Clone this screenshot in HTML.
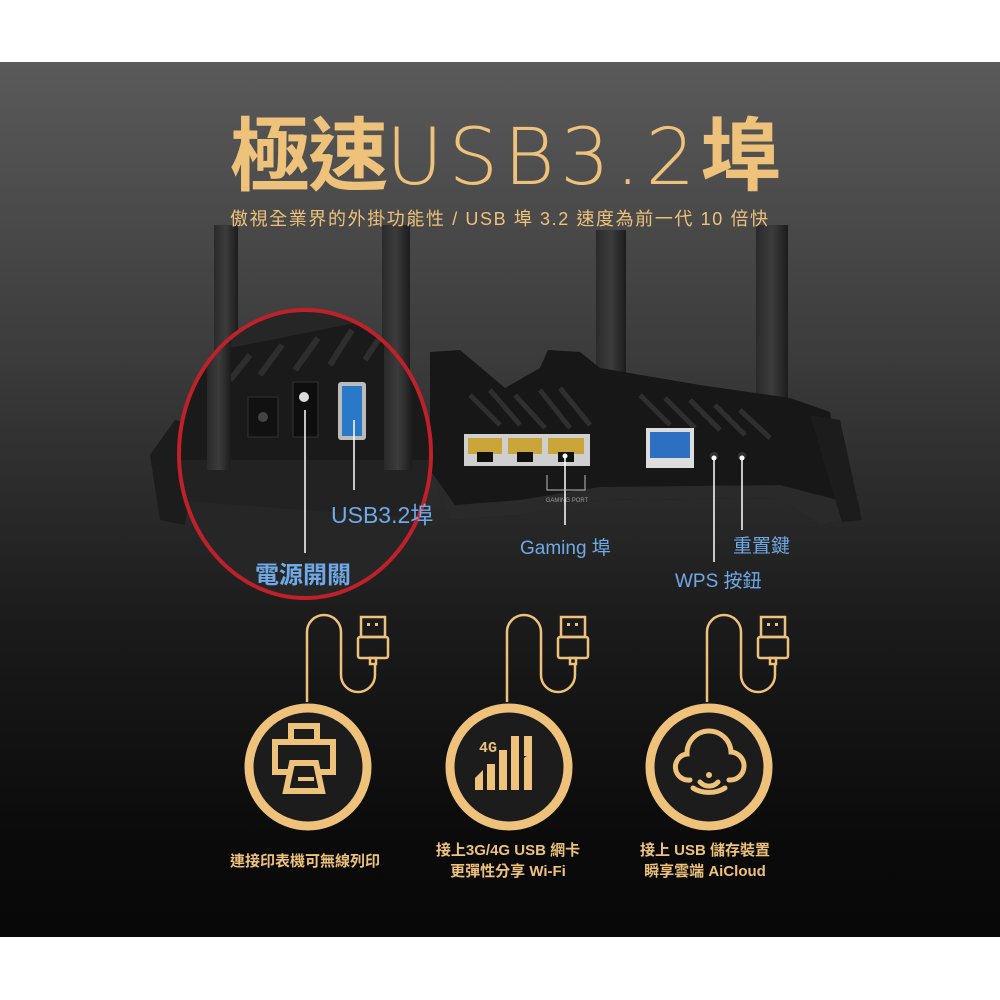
<!DOCTYPE html>
<html><head><meta charset="utf-8">
<style>
html,body{margin:0;padding:0;background:#fff;}
#c{position:relative;width:1000px;height:1000px;overflow:hidden;background:#fff;font-family:"Liberation Sans","Noto Sans CJK TC",sans-serif;}
#bg{position:absolute;left:0;top:62px;width:1000px;height:875px;background:linear-gradient(#5a5a5a 0%,#3a3a3a 35%,#1a1a1a 65%,#0a0a0a 90%,#080808 100%);}
svg{position:absolute;left:0;top:0;}
.t{position:absolute;white-space:nowrap;}
</style></head><body><div id="c">
<div id="bg"></div>
<svg width="1000" height="1000" viewBox="0 0 1000 1000">
 <defs>
  <clipPath id="cc"><ellipse cx="305" cy="454" rx="126" ry="144"/></clipPath>
  <linearGradient id="ant" x1="0" x2="1"><stop offset="0" stop-color="#2a2a2a"/><stop offset=".5" stop-color="#3c3c3c"/><stop offset="1" stop-color="#1c1c1c"/></linearGradient>
 </defs>
 <rect x="214" y="225" width="24" height="260" fill="url(#ant)"/>
 <rect x="382" y="225" width="28" height="260" fill="url(#ant)"/>
 <rect x="596" y="230" width="30" height="250" fill="url(#ant)"/>
 <rect x="756" y="225" width="32" height="255" fill="url(#ant)"/>
 <polygon points="430,352 460,350 505,388 540,368 548,350 580,352 600,368 700,385 790,398 830,412 842,520 820,525 780,498 600,500 520,515 450,520 430,470" fill="#171717"/>
 <polygon points="430,470 450,520 520,515 600,500 780,498 820,525 842,520 838,500 780,485 600,487 520,500 455,505" fill="#2a2a2a"/>
 <g stroke="#2f2f2f" stroke-width="5">
  <line x1="470" y1="395" x2="500" y2="425"/><line x1="490" y1="390" x2="520" y2="425"/><line x1="515" y1="395" x2="545" y2="428"/>
  <line x1="540" y1="390" x2="570" y2="428"/><line x1="560" y1="388" x2="590" y2="425"/><line x1="640" y1="395" x2="670" y2="425"/>
  <line x1="665" y1="398" x2="695" y2="428"/><line x1="690" y1="400" x2="720" y2="430"/><line x1="715" y1="405" x2="745" y2="435"/><line x1="740" y1="410" x2="770" y2="438"/>
 </g>
 <rect x="464" y="434" width="126" height="32" fill="#cfcfcf"/>
 <rect x="468" y="438" width="34" height="16" fill="#c9a53a"/><rect x="508" y="438" width="34" height="16" fill="#c9a53a"/><rect x="548" y="438" width="36" height="16" fill="#c9a53a"/>
 <rect x="477" y="452" width="16" height="10" fill="#111"/><rect x="517" y="452" width="16" height="10" fill="#111"/><rect x="558" y="452" width="16" height="10" fill="#111"/>
 <rect x="646" y="428" width="48" height="40" fill="#ddd"/><rect x="650" y="432" width="40" height="26" fill="#2d6fc0"/>
 <circle cx="714" cy="456" r="5" fill="#333" stroke="#111"/><circle cx="742" cy="456" r="5" fill="#333" stroke="#111"/>
 <polygon points="150,455 175,420 200,425 185,525 160,520" fill="#1c1c1c"/>
 <polygon points="810,415 840,420 862,520 842,522" fill="#1c1c1c"/>
 <text x="567" y="502" font-size="6" fill="#999" text-anchor="middle" font-family="Liberation Sans">GAMING PORT</text>
 <g clip-path="url(#cc)">
  <rect x="170" y="300" width="270" height="310" fill="#262626"/>
  <polygon points="170,360 420,310 440,310 440,480 170,480" fill="#1a1a1a"/>
  <g stroke="#2e2e2e" stroke-width="6">
   <line x1="230" y1="380" x2="250" y2="355"/><line x1="260" y1="375" x2="282" y2="345"/><line x1="295" y1="370" x2="318" y2="338"/><line x1="330" y1="365" x2="352" y2="330"/><line x1="365" y1="360" x2="388" y2="325"/>
  </g>
  <polygon points="170,460 440,460 440,520 170,500" fill="#222"/>
  <rect x="207" y="310" width="24" height="160" fill="url(#ant)"/>
  <rect x="384" y="320" width="28" height="150" fill="url(#ant)"/>
  <rect x="248" y="397" width="30" height="40" fill="#111" stroke="#333"/><circle cx="263" cy="417" r="5" fill="#444"/>
  <rect x="293" y="382" width="25" height="55" fill="#0e0e0e" stroke="#333"/><circle cx="304" cy="397" r="5" fill="#ddd"/>
  <rect x="338" y="382" width="28" height="58" rx="3" fill="#bbb"/><rect x="342" y="386" width="20" height="50" fill="#2a79c8"/>
 </g>
 <ellipse cx="305" cy="454" rx="126" ry="144" fill="none" stroke="#c0202a" stroke-width="4"/>
 <g stroke="#fff" stroke-width="1.5" fill="none">
  <line x1="305" y1="410" x2="305" y2="553"/>
  <line x1="354" y1="420" x2="354" y2="490"/>
  <line x1="565" y1="456" x2="565" y2="525"/>
  <polyline points="547,475 547,490 585,490 585,475" stroke="#bbb" stroke-width="1"/>
  <line x1="714" y1="456" x2="714" y2="562"/>
  <line x1="742" y1="456" x2="742" y2="530"/>
 </g>
 <g fill="#fff"><circle cx="565" cy="456" r="2.5"/><circle cx="714" cy="458" r="2.5"/><circle cx="742" cy="458" r="2.5"/></g>
 <g stroke="#eec27b" stroke-width="2.5" fill="none">
  <g id="cab">
   <path d="M307 702 V632 a17 17 0 0 1 34 0 V675 a17 17 0 0 0 34 0 V664"/>
   <rect x="361" y="617" width="24" height="20"/>
   <rect x="358" y="637" width="30" height="21" rx="2"/>
   <rect x="370" y="658" width="6" height="6"/>
  </g>
  <use href="#cab" transform="translate(200,0)"/>
  <use href="#cab" transform="translate(400,0)"/>
 </g>
 <g fill="#eec27b"><rect x="367" y="623" width="3" height="3"/><rect x="375" y="623" width="3" height="3"/>
  <rect x="567" y="623" width="3" height="3"/><rect x="575" y="623" width="3" height="3"/>
  <rect x="767" y="623" width="3" height="3"/><rect x="775" y="623" width="3" height="3"/></g>
 <g fill="#1c1c1c" stroke="#eec27b" stroke-width="9">
  <circle cx="308" cy="767" r="59"/><circle cx="509" cy="767" r="59"/><circle cx="709" cy="767" r="59"/>
 </g>
 <g stroke="#eec27b" stroke-width="6" fill="none">
  <rect x="275" y="742" width="58" height="30"/>
  <path d="M291 742 V726 h26 V742"/>
  <path d="M286 791 l6 -28 h24 l6 28 z" fill="#1c1c1c"/>
  <line x1="298" y1="779" x2="314" y2="779" stroke-width="4"/>
 </g>
 <g fill="#eec27b">
  <polygon points="475,790 483,790 483,770 475,778"/>
  <rect x="487" y="764" width="8" height="26"/><rect x="499" y="750" width="8" height="40"/><rect x="511" y="736" width="8" height="54"/>
  <polygon points="524,758 532,752 532,790 524,790"/><rect x="524" y="736" width="8" height="20"/>
  <text x="479" y="752" font-size="15" font-weight="bold" font-family="Liberation Mono" fill="#eec27b">4G</text>
 </g>
 <g stroke="#eec27b" stroke-width="5" fill="none" stroke-linecap="round">
  <path d="M690 780 a13 13 0 0 1 -3 -26 a22 22 0 0 1 44 -2 a13 13 0 0 1 -2 28"/>
  <path d="M700 782 a12 12 0 0 0 18 0"/>
  <path d="M693 788 a22 14 0 0 0 32 0"/>
 </g>
 <circle cx="709" cy="775" r="3" fill="#eec27b"/>
</svg>
<div class="t" style="left:230px;top:112px;font-size:80px;font-weight:bold;color:#eec27b;line-height:90px;letter-spacing:-2px;">極速<span style="font-family:'DejaVu Sans','Liberation Sans',sans-serif;font-weight:200;letter-spacing:5.5px;font-size:78px;">USB3.2</span>埠</div>
<div class="t" style="left:230px;top:205px;font-size:18px;color:#eec27b;letter-spacing:1.6px;">傲視全業界的外掛功能性 / USB 埠 3.2 速度為前一代 10 倍快</div>
<div class="t" style="left:331px;top:496px;font-size:23px;color:#6fa9e6;">USB3.2埠</div>
<div class="t" style="left:255px;top:555px;font-size:24px;font-weight:bold;color:#6fa9e6;">電源開關</div>
<div class="t" style="left:520px;top:533px;font-size:19px;color:#6fa9e6;">Gaming 埠</div>
<div class="t" style="left:733px;top:531px;font-size:19px;color:#6fa9e6;">重置鍵</div>
<div class="t" style="left:675px;top:566px;font-size:19px;color:#6fa9e6;">WPS 按鈕</div>
<div class="t" style="left:215px;top:850px;width:180px;text-align:center;font-size:15px;font-weight:bold;color:#eec27b;">連接印表機可無線列印</div>
<div class="t" style="left:408px;top:840px;width:200px;text-align:center;font-size:15px;font-weight:bold;color:#eec27b;line-height:21px;">接上3G/4G USB 網卡<br>更彈性分享 Wi-Fi</div>
<div class="t" style="left:605px;top:840px;width:200px;text-align:center;font-size:15px;font-weight:bold;color:#eec27b;line-height:21px;">接上 USB 儲存裝置<br>瞬享雲端 AiCloud</div>
</div></body></html>
